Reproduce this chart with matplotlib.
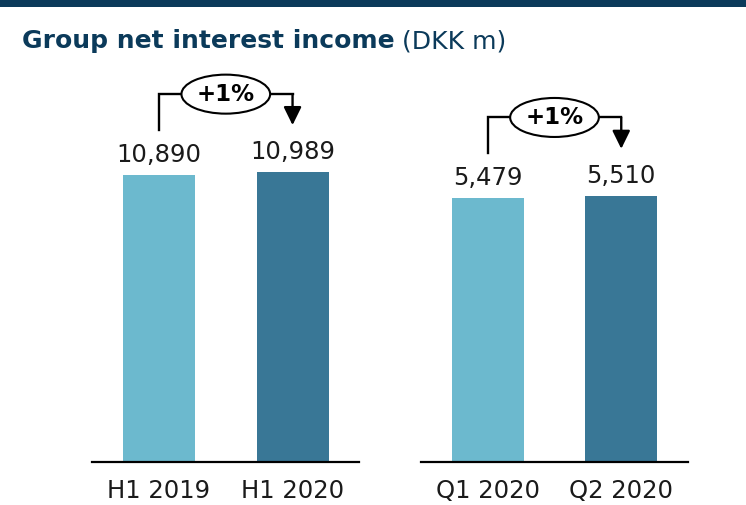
import matplotlib
matplotlib.use('Agg')
import matplotlib.pyplot as plt
from matplotlib.patches import Rectangle
from matplotlib.transforms import blended_transform_factory

# data
half_labels = ['H1 2019', 'H1 2020']
half_values = [10890, 10989]
quarter_labels = ['Q1 2020', 'Q2 2020']
quarter_values = [5479, 5510]
changes = ['+1%', '+1%']

LIGHT = '#6cb9ce'
DARK = '#397796'
NAVY = '#0b3a5a'

plt.rcParams['font.family'] = ['DejaVu Sans']

fig = plt.figure(figsize=(7.46, 5.05), dpi=100)

# dark band across the top
fig.patches.append(Rectangle((0, 1 - 7 / 505), 1, 7 / 505, transform=fig.transFigure,
                             facecolor=NAVY, edgecolor='none'))

t1 = fig.text(22 / 746, 1 - 48 / 505, 'Group net interest income', fontsize=18,
              fontweight='bold', color=NAVY, va='baseline')
fig.canvas.draw()
bb = t1.get_window_extent()
fig.text(bb.x1 / fig.bbox.width + 7 / 746, 1 - 48 / 505, '(DKK m)', fontsize=18,
         color=NAVY, va='baseline')

bottom = (505 - 462.3) / 505
height = 382.3 / 505
panels = [
    # labels, values, change, left px, ymax, bracket/start/tip heights (axes fraction)
    (half_labels, half_values, changes[0], 92.3, 14491, 0.963, 0.869, 0.882),
    (quarter_labels, quarter_values, changes[1], 421.0, 7925, 0.902, 0.809, 0.820),
]

for labels, values, chg, left, ymax, yb, ys, yt in panels:
    ax = fig.add_axes([left / 746, bottom, 267 / 746, height])
    x = range(len(values))
    ax.bar(x, values, width=0.54, color=[LIGHT, DARK], zorder=2)
    ax.set_xlim(-0.5, 1.5)
    ax.set_ylim(0, ymax)
    ax.set_xticks(list(x))
    ax.set_xticklabels(labels, fontsize=17.5, color='#1a1a1a')
    ax.tick_params(axis='x', length=0, pad=12)
    ax.set_yticks([])
    for s in ['top', 'right', 'left']:
        ax.spines[s].set_visible(False)
    ax.spines['bottom'].set_linewidth(1.6)
    ax.spines['bottom'].set_color('black')

    for xi, v in zip(x, values):
        ax.annotate(f'{v:,}', (xi, v), xytext=(0, 9.5), textcoords='offset points',
                    ha='center', va='baseline', fontsize=17.5, color='#1a1a1a')

    tr = blended_transform_factory(ax.transData, ax.transAxes)
    ax.plot([0, 0, 1], [ys, yb, yb], color='black', lw=1.7, transform=tr,
            clip_on=False, solid_joinstyle='miter', zorder=3)
    ax.annotate('', xy=(1, yt), xytext=(1, yb), xycoords=tr, textcoords=tr,
                arrowprops=dict(arrowstyle='-|>,head_length=0.55,head_width=0.27',
                                mutation_scale=20, lw=1.7, color='black',
                                shrinkA=0, shrinkB=0), zorder=3)
    ax.text(0.5, yb, chg, transform=tr, ha='center', va='center', fontsize=16.5,
            fontweight='bold', color='black', zorder=4,
            bbox=dict(boxstyle='ellipse,pad=0.1', fc='white', ec='black', lw=1.5))

fig.savefig('out.png', dpi=100)
